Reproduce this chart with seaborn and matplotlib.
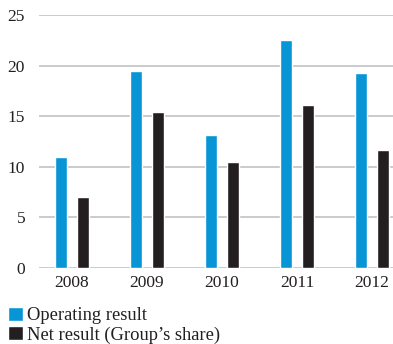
import matplotlib
matplotlib.use("Agg")
import matplotlib.pyplot as plt
import seaborn as sns
import pandas as pd

years = ["2008", "2009", "2010", "2011", "2012"]
operating_result = [11.0, 19.5, 13.1, 22.5, 19.3]
net_result = [7.0, 15.4, 10.5, 16.1, 11.7]
series_names = ["Operating result", "Net result (Group\u2019s share)"]
y_ticks = [0, 5, 10, 15, 20, 25]

df = pd.DataFrame({
    "year": years * 2,
    "value": operating_result + net_result,
    "series": [series_names[0]] * len(years) + [series_names[1]] * len(years),
})

sns.set_style("white")
plt.rcParams["font.family"] = ["Liberation Serif", "DejaVu Serif"]

fig = plt.figure(figsize=(3.93, 3.44), dpi=100)
ax = fig.add_axes([39 / 393, 76 / 344, 1 - 39 / 393, 253 / 344])

palette = {series_names[0]: "#0895D6", series_names[1]: "#231F20"}
sns.barplot(data=df, x="year", y="value", hue="series", palette=palette,
            width=0.59, gap=0.45, saturation=1, ax=ax, zorder=3)

ax.set_ylim(0, 25)
ax.set_xlim(-0.44, 4.28)
ax.set_yticks(y_ticks)
ax.set_yticklabels([str(t) for t in y_ticks])
for t in y_ticks:
    ax.axhline(t, color="#BDBDBD", lw=1.1, zorder=1)

for s in ax.spines.values():
    s.set_visible(False)
ax.tick_params(axis="both", length=0, labelsize=12.5, colors="#231F20")
ax.tick_params(axis="y", pad=10)
ax.tick_params(axis="x", pad=5)
ax.set_xlabel("")
ax.set_ylabel("")

handles, labels = ax.get_legend_handles_labels()
ax.legend_.remove()
fig.legend(handles, labels, loc="upper left", bbox_to_anchor=(8 / 393, 1 - 307 / 344),
           frameon=False, fontsize=13.3, handlelength=0.8, handleheight=0.8,
           handletextpad=0.25, labelspacing=0.1, borderaxespad=0, borderpad=0,
           labelcolor="#231F20")

fig.savefig("out.png", dpi=100)
